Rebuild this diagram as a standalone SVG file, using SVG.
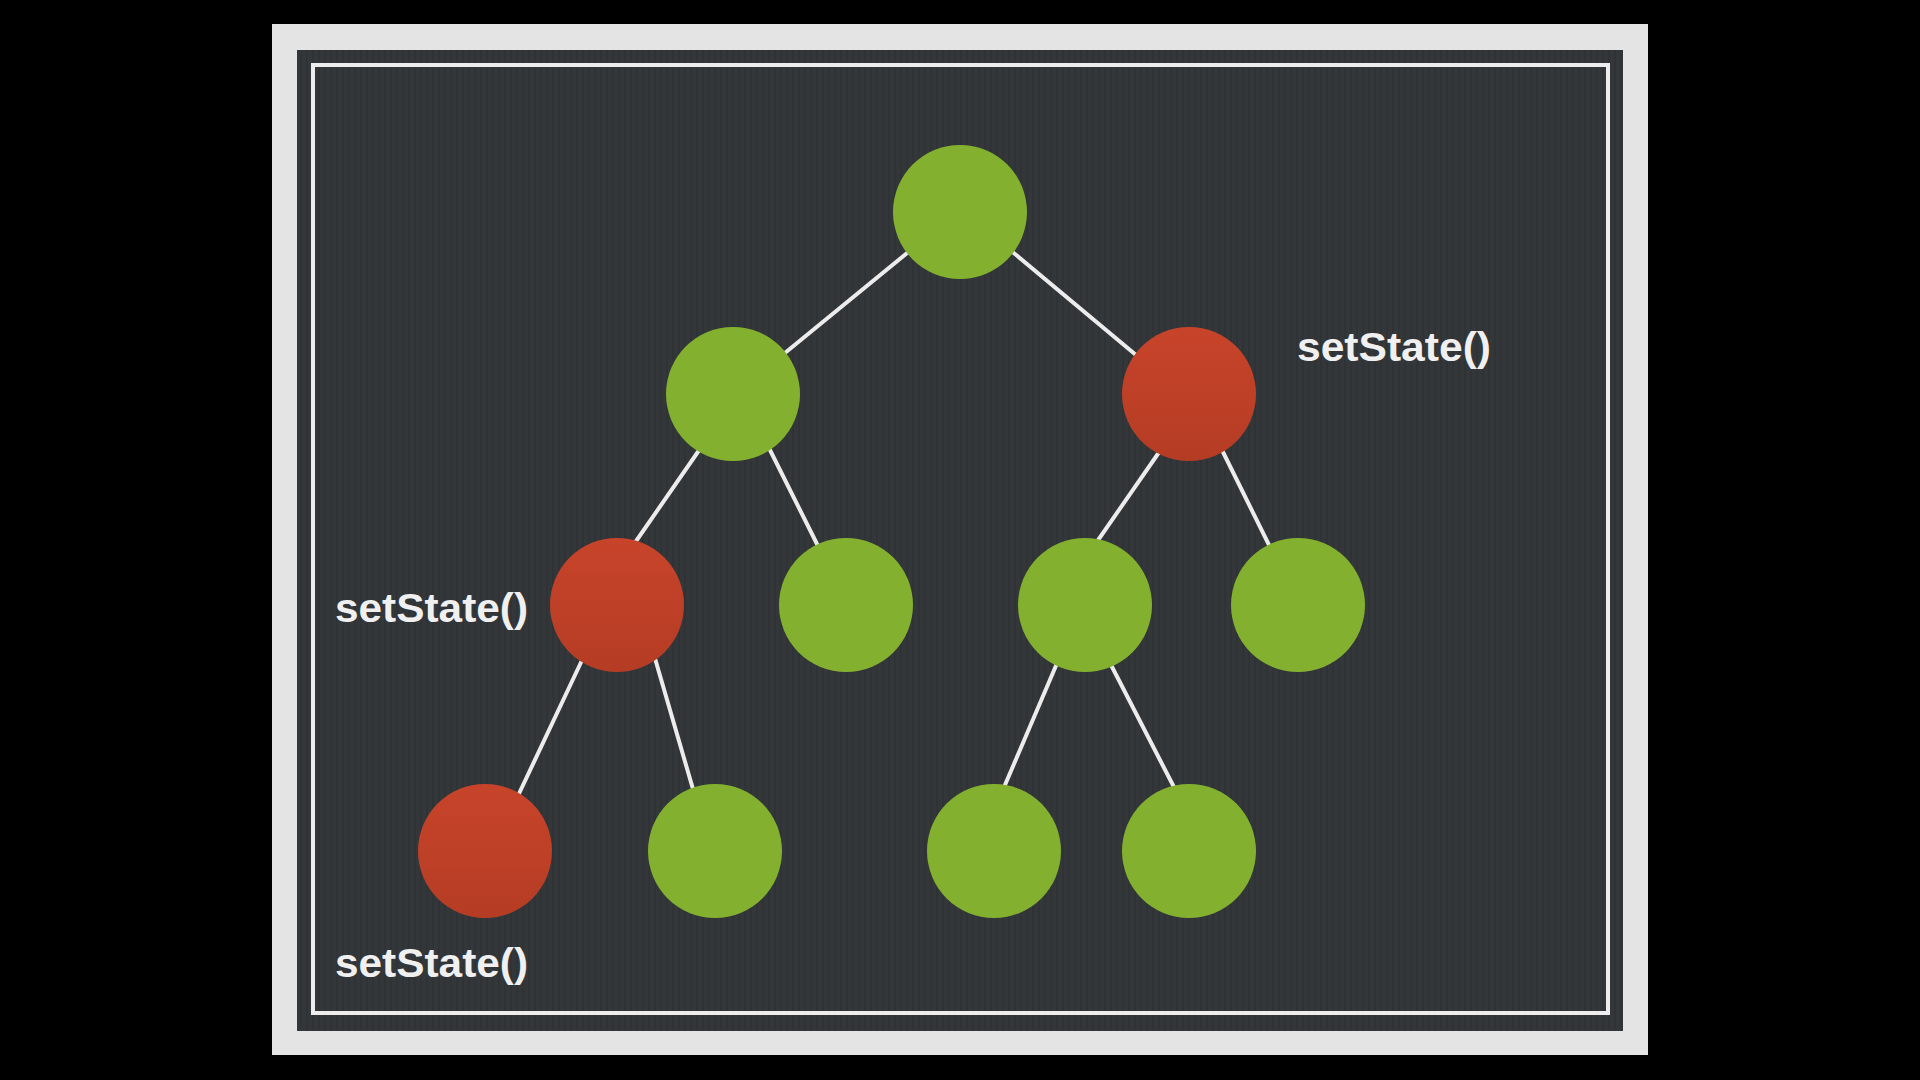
<svg xmlns="http://www.w3.org/2000/svg" width="1920" height="1080" viewBox="0 0 1920 1080">
<style>
.edge{stroke:#ececec;stroke-width:4;stroke-linecap:round;fill:none}
.green{fill:#83b12f}
.red{fill:url(#redGrad)}
.label{font-family:"Liberation Sans",Arial,sans-serif;font-weight:bold;font-size:40px;fill:#f0f0f0}
</style>
<defs>
<linearGradient id="redGrad" x1="0" y1="0" x2="0" y2="1">
<stop offset="0" stop-color="#c7442a"/>
<stop offset="1" stop-color="#b53c24"/>
</linearGradient>
<pattern id="stripes" width="6" height="10" patternUnits="userSpaceOnUse">
<rect width="6" height="10" fill="#33373a"/>
<rect width="2" height="10" fill="#2f3336"/>
</pattern>
</defs>
<rect width="1920" height="1080" fill="#000"/>
<rect x="272" y="24" width="1376" height="1031" fill="#e4e4e4"/>
<rect x="297" y="50" width="1326" height="981" fill="url(#stripes)"/>
<rect x="313" y="65" width="1295" height="948" fill="none" stroke="#ededed" stroke-width="4"/>
<g id="connectors">
<line class="edge" x1="912" y1="249" x2="780" y2="357"/>
<line class="edge" x1="1009" y1="249" x2="1142" y2="360"/>
<line class="edge" x1="702" y1="446" x2="632" y2="547"/>
<line class="edge" x1="768" y1="446" x2="821" y2="552"/>
<line class="edge" x1="1162" y1="448" x2="1094" y2="546"/>
<line class="edge" x1="1220" y1="446" x2="1273" y2="553"/>
<line class="edge" x1="584" y1="656" x2="516" y2="800"/>
<line class="edge" x1="654" y1="655" x2="695" y2="796"/>
<line class="edge" x1="1058" y1="661" x2="1002" y2="792"/>
<line class="edge" x1="1109" y1="661" x2="1177" y2="793"/>
</g>
<g id="root"><circle class="green" cx="960" cy="212" r="67"/></g>
<g id="l1-left"><circle class="green" cx="733" cy="394" r="67"/></g>
<g id="l1-right"><circle class="red" cx="1189" cy="394" r="67"/></g>
<g id="l2-a"><circle class="red" cx="617" cy="605" r="67"/></g>
<g id="l2-b"><circle class="green" cx="846" cy="605" r="67"/></g>
<g id="l2-c"><circle class="green" cx="1085" cy="605" r="67"/></g>
<g id="l2-d"><circle class="green" cx="1298" cy="605" r="67"/></g>
<g id="l3-a"><circle class="red" cx="485" cy="851" r="67"/></g>
<g id="l3-b"><circle class="green" cx="715" cy="851" r="67"/></g>
<g id="l3-c"><circle class="green" cx="994" cy="851" r="67"/></g>
<g id="l3-d"><circle class="green" cx="1189" cy="851" r="67"/></g>
<g id="labels">
<text class="label" x="1297" y="361" textLength="194" lengthAdjust="spacingAndGlyphs">setState()</text>
<text class="label" x="335" y="622" textLength="193" lengthAdjust="spacingAndGlyphs">setState()</text>
<text class="label" x="335" y="977" textLength="193" lengthAdjust="spacingAndGlyphs">setState()</text>
</g>
</svg>
